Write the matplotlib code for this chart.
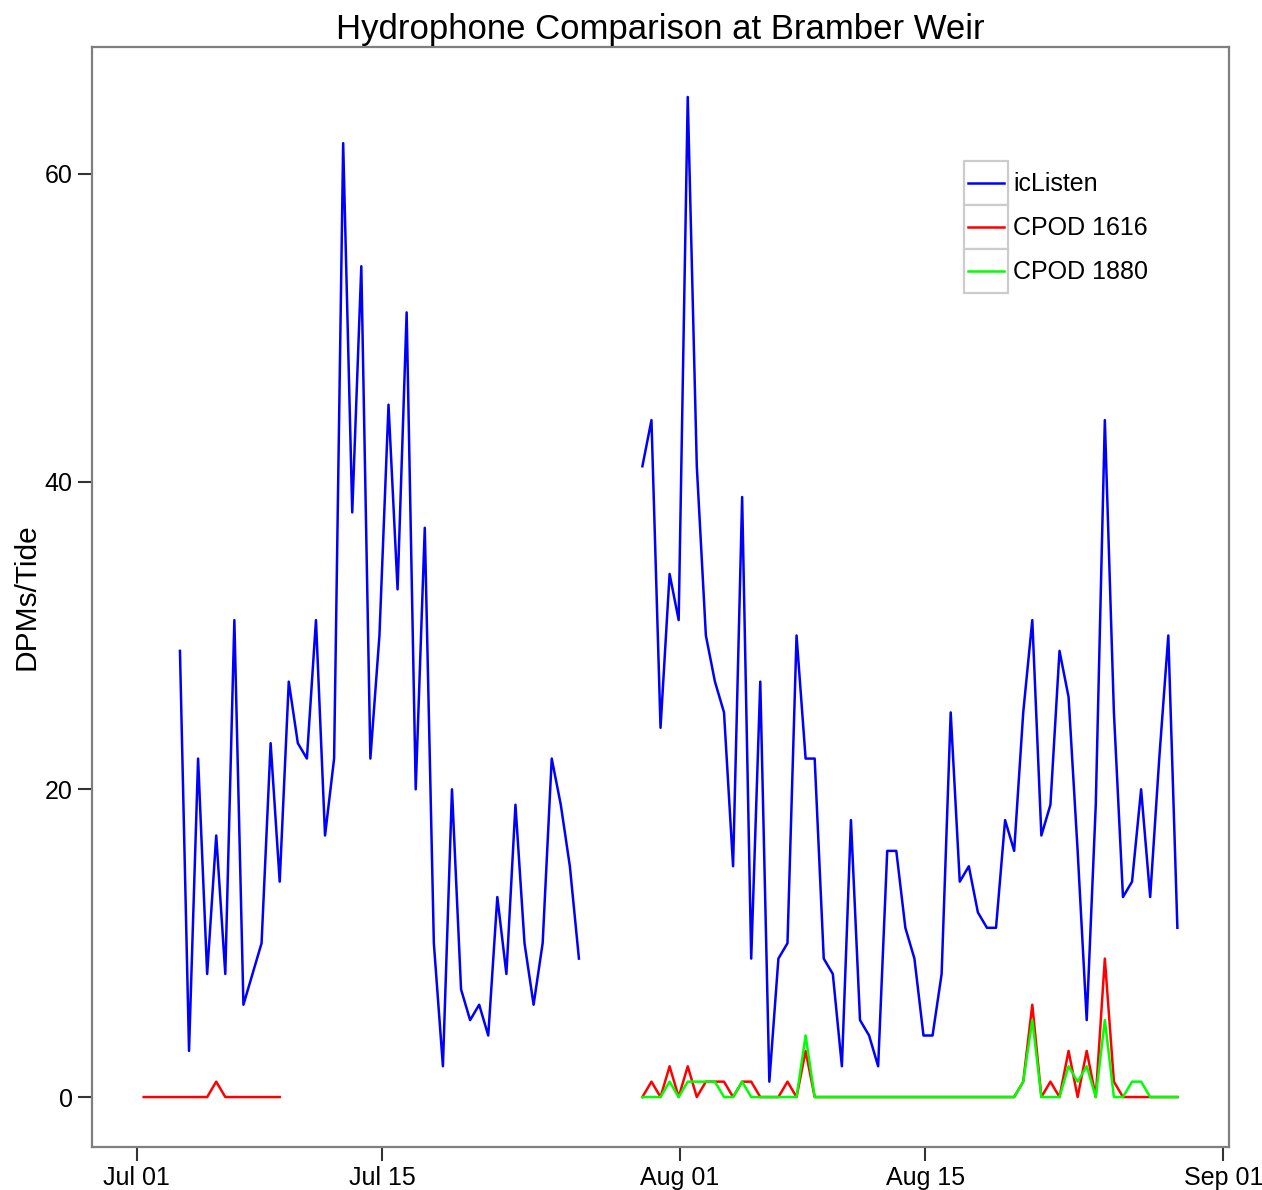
import matplotlib
matplotlib.use("Agg")
import matplotlib.pyplot as plt
import matplotlib.dates as mdates
import pandas as pd
from matplotlib.legend_handler import HandlerBase
from matplotlib.lines import Line2D
from matplotlib.patches import Rectangle

plt.rcParams["font.family"] = ["Liberation Sans", "DejaVu Sans"]

# One value per tidal cycle (12 h 25 min); segments start at the first tide logged.
TIDE = "745min"
JUL_CPOD_START = "2013-07-01 09:40"
JUL_ICL_START = "2013-07-03 11:20"
AUG_START = "2013-07-29 20:35"

icl_jul = [29, 3, 22, 8, 17, 8, 31, 6, 8, 10, 23, 14, 27, 23, 22, 31, 17, 22, 62, 38,
           54, 22, 30, 45, 33, 51, 20, 37, 10, 2, 20, 7, 5, 6, 4, 13, 8, 19, 10, 6,
           10, 22, 19, 15, 9]
cpod1616_jul = [0, 0, 0, 0, 0, 0, 0, 0, 1, 0, 0, 0, 0, 0, 0, 0]

icl_aug = [41, 44, 24, 34, 31, 65, 41, 30, 27, 25, 15, 39, 9, 27, 1, 9, 10, 30, 22, 22,
           9, 8, 2, 18, 5, 4, 2, 16, 16, 11, 9, 4, 4, 8, 25, 14, 15, 12, 11, 11,
           18, 16, 25, 31, 17, 19, 29, 26, 16, 5, 19, 44, 25, 13, 14, 20, 13, 22, 30, 11]
cpod1616_aug = [0, 1, 0, 2, 0, 2, 0, 1, 1, 1, 0, 1, 1, 0, 0, 0, 1, 0, 3, 0,
                0, 0, 0, 0, 0, 0, 0, 0, 0, 0, 0, 0, 0, 0, 0, 0, 0, 0, 0, 0,
                0, 0, 1, 6, 0, 1, 0, 3, 0, 3, 0, 9, 1, 0, 0, 0, 0, 0, 0, 0]
cpod1880_aug = [0, 0, 0, 1, 0, 1, 1, 1, 1, 0, 0, 1, 0, 0, 0, 0, 0, 0, 4, 0,
                0, 0, 0, 0, 0, 0, 0, 0, 0, 0, 0, 0, 0, 0, 0, 0, 0, 0, 0, 0,
                0, 0, 1, 5, 0, 0, 0, 2, 1, 2, 0, 5, 0, 0, 1, 1, 0, 0, 0, 0]

SERIES = ["icListen", "CPOD 1616", "CPOD 1880"]
COLORS = {"icListen": "#0000FF", "CPOD 1616": "#FF0000", "CPOD 1880": "#00FF00"}


def tides(start, values):
    return pd.date_range(start, periods=len(values), freq=TIDE)


class BoxedKey(HandlerBase):
    """Legend key drawn as a grey-bordered square with the line inside."""

    def create_artists(self, legend, orig_handle, xdescent, ydescent,
                       width, height, fontsize, trans):
        box = Rectangle((-xdescent, -ydescent), width, height, facecolor="white",
                        edgecolor="#CCCCCC", lw=1.6, transform=trans)
        inset = 0.09 * width
        y = -ydescent + height / 2
        line = Line2D([-xdescent + inset, -xdescent + width - inset], [y, y],
                      color=orig_handle.get_color(), lw=orig_handle.get_linewidth(),
                      transform=trans)
        return [box, line]


fig = plt.figure(figsize=(12.62, 11.90), dpi=100)
ax = fig.add_axes([0.0729, 0.0361, 0.901, 0.9244])

lw = 1.8
handles = {}
segments = [
    ("icListen", JUL_ICL_START, icl_jul),
    ("icListen", AUG_START, icl_aug),
    ("CPOD 1616", JUL_CPOD_START, cpod1616_jul),
    ("CPOD 1616", AUG_START, cpod1616_aug),
    ("CPOD 1880", AUG_START, cpod1880_aug),
]
for name, start, vals in segments:
    (ln,) = ax.plot(tides(start, vals), vals, color=COLORS[name], lw=lw)
    handles.setdefault(name, ln)

# ggplot-style 5% padding around the data range
t_min = pd.Timestamp(JUL_CPOD_START)
t_max = tides(AUG_START, icl_aug)[-1]
pad = (t_max - t_min) * 0.05
ax.set_xlim(t_min - pad, t_max + pad)
y_max = max(icl_aug + icl_jul)
ax.set_ylim(-0.05 * y_max, y_max * 1.05)

ax.set_yticks([0, 20, 40, 60])
ax.xaxis.set_major_locator(mdates.DayLocator(bymonthday=[1, 15]))
ax.xaxis.set_major_formatter(mdates.DateFormatter("%b %d"))
ax.tick_params(axis="both", labelsize=18, length=10, width=1.5,
               color="#333333", labelcolor="black", pad=4)

for sp in ax.spines.values():
    sp.set_color("#7F7F7F")
    sp.set_linewidth(1.6)

ax.set_ylabel("DPMs/Tide", fontsize=21.5, labelpad=3)
ax.set_title("Hydrophone Comparison at Bramber Weir", fontsize=25, pad=6)

ax.legend([handles[s] for s in SERIES], SERIES,
          handler_map={Line2D: BoxedKey()},
          loc="upper left", bbox_to_anchor=(0.767, 0.896),
          frameon=False, fontsize=18, borderpad=0, borderaxespad=0,
          labelspacing=0, handlelength=1.76, handleheight=2.33,
          handletextpad=0.2)

fig.savefig("out.png", dpi=100)
